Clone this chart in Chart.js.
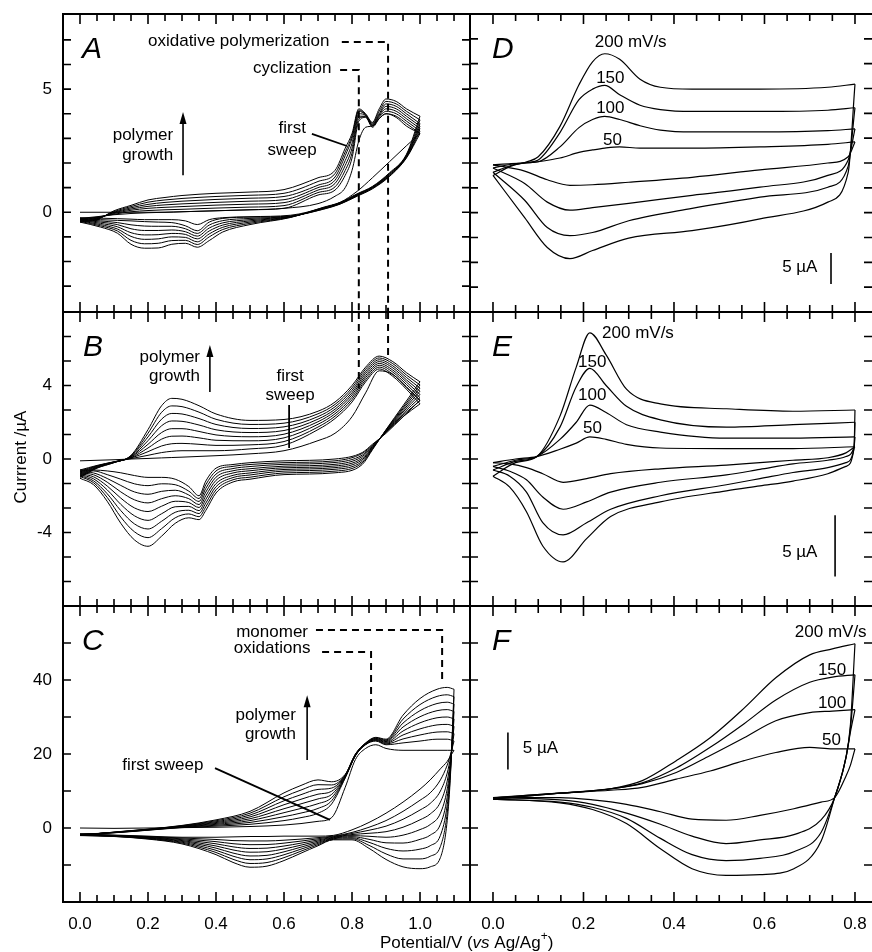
<!DOCTYPE html>
<html>
<head>
<meta charset="utf-8">
<title>Cyclic voltammograms A-F</title>
<script src="https://cdn.jsdelivr.net/npm/chart.js@4.4.1/dist/chart.umd.min.js"></script>
<style>
  html, body { margin: 0; padding: 0; background: #fff; }
  #wrap { position: relative; width: 872px; height: 952px; }
  #wrap canvas { position: absolute; left: 0; top: 0; }
</style>
</head>
<body>
<div id="wrap">
  <canvas id="panel-a" width="872" height="952"></canvas>
  <canvas id="panel-b" width="872" height="952"></canvas>
  <canvas id="panel-c" width="872" height="952"></canvas>
  <canvas id="panel-d" width="872" height="952"></canvas>
  <canvas id="panel-e" width="872" height="952"></canvas>
  <canvas id="panel-f" width="872" height="952"></canvas>
</div>
<script>
'use strict';

// ******* DATA : PANEL A (one row per cycle, first sweep first) *******
const aForwardPotential = [0, 0.05, 0.1, 0.15, 0.2, 0.25, 0.3, 0.4, 0.5, 0.6, 0.7, 0.75, 0.78, 0.8, 0.82, 0.84, 0.86, 0.88, 0.9, 0.93, 0.96, 1.0];
const aForwardCurrent = [
  [0, 0, 0, 0, 0, 0, 0.02, 0.06, 0.1, 0.16, 0.35, 0.65, 1.0, 1.7, 2.9, 3.45, 3.5, 3.8, 4.0, 3.85, 3.5, 3.2],
  [-0.25, -0.18, -0.1, -0.05, -0.02, 0, 0.02, 0.06, 0.1, 0.16, 0.7, 0.9, 1.5, 2.2, 3.7, 3.85, 3.45, 3.8, 4.0, 3.9, 3.6, 3.2],
  [-0.28, -0.2, -0.08, 0.02, 0.07, 0.1, 0.12, 0.17, 0.21, 0.27, 0.8, 1.03, 1.7, 2.4, 3.8, 3.88, 3.5, 3.85, 4.1, 4.0, 3.7, 3.3],
  [-0.3, -0.22, -0.05, 0.08, 0.16, 0.2, 0.23, 0.29, 0.33, 0.39, 0.9, 1.17, 1.9, 2.6, 3.9, 3.9, 3.52, 3.9, 4.2, 4.1, 3.8, 3.4],
  [-0.32, -0.24, -0.02, 0.13, 0.24, 0.3, 0.34, 0.4, 0.45, 0.51, 1.0, 1.3, 2.1, 2.8, 4.0, 3.93, 3.55, 3.95, 4.3, 4.2, 3.9, 3.5],
  [-0.35, -0.26, 0, 0.18, 0.32, 0.4, 0.45, 0.52, 0.57, 0.64, 1.1, 1.43, 2.3, 3.0, 4.1, 3.95, 3.58, 4.0, 4.4, 4.3, 4.0, 3.6],
  [-0.37, -0.28, 0.03, 0.23, 0.41, 0.5, 0.56, 0.64, 0.69, 0.77, 1.25, 1.57, 2.45, 3.1, 4.15, 3.97, 3.62, 4.1, 4.5, 4.4, 4.1, 3.75],
  [-0.4, -0.3, 0.06, 0.28, 0.5, 0.6, 0.68, 0.77, 0.82, 0.92, 1.4, 1.7, 2.6, 3.2, 4.2, 4.0, 3.65, 4.2, 4.6, 4.5, 4.2, 3.9]
];
const aReversePotential = [1.0, 0.96, 0.91, 0.86, 0.815, 0.765, 0.715, 0.62, 0.5, 0.42, 0.38, 0.345, 0.31, 0.27, 0.23, 0.19, 0.15, 0.11, 0.06, 0];
const aReverseCurrent = [
  [3.2, 2.7, 2.05, 1.4, 0.85, 0.4, 0.18, -0.12, -0.18, -0.22, -0.3, -0.5, -0.35, -0.3, -0.3, -0.3, -0.28, -0.26, -0.24, -0.22],
  [3.2, 2.2, 1.45, 0.95, 0.65, 0.33, 0.12, -0.15, -0.2, -0.25, -0.4, -0.75, -0.55, -0.42, -0.4, -0.38, -0.35, -0.33, -0.3, -0.25],
  [3.3, 2.22, 1.47, 0.97, 0.67, 0.34, 0.13, -0.16, -0.25, -0.34, -0.52, -0.86, -0.67, -0.57, -0.57, -0.56, -0.51, -0.42, -0.35, -0.28],
  [3.4, 2.25, 1.5, 0.99, 0.69, 0.35, 0.15, -0.17, -0.3, -0.43, -0.64, -0.97, -0.79, -0.72, -0.74, -0.74, -0.67, -0.5, -0.4, -0.3],
  [3.5, 2.27, 1.52, 1.0, 0.7, 0.36, 0.16, -0.18, -0.35, -0.52, -0.76, -1.08, -0.9, -0.86, -0.91, -0.92, -0.83, -0.59, -0.45, -0.32],
  [3.6, 2.3, 1.55, 1.02, 0.72, 0.38, 0.17, -0.19, -0.4, -0.61, -0.88, -1.2, -1.02, -1.0, -1.08, -1.1, -0.98, -0.68, -0.5, -0.35],
  [3.75, 2.32, 1.57, 1.03, 0.73, 0.39, 0.18, -0.2, -0.45, -0.7, -1.0, -1.31, -1.14, -1.15, -1.26, -1.28, -1.14, -0.76, -0.55, -0.37],
  [3.9, 2.35, 1.6, 1.05, 0.75, 0.4, 0.2, -0.21, -0.5, -0.8, -1.15, -1.42, -1.26, -1.3, -1.45, -1.46, -1.3, -0.85, -0.6, -0.4]
];

// ******* DATA : PANEL B *******
const bForwardPotential = [0, 0.05, 0.1, 0.15, 0.2, 0.24, 0.27, 0.3, 0.35, 0.4, 0.5, 0.6, 0.7, 0.75, 0.8, 0.84, 0.88, 0.92, 0.96, 1.0];
const bForwardCurrent = [
  [-0.1, -0.07, -0.04, 0, 0.03, 0.06, 0.08, 0.1, 0.14, 0.18, 0.28, 0.45, 1.0, 1.4, 2.3, 3.6, 4.8, 4.6, 3.9, 3.2],
  [-0.6, -0.35, -0.15, 0.02, 0.2, 0.35, 0.42, 0.45, 0.45, 0.45, 0.55, 0.75, 1.6, 2.2, 3.1, 4.2, 4.9, 4.5, 3.8, 3.0],
  [-0.66, -0.37, -0.16, 0.05, 0.4, 0.71, 0.83, 0.85, 0.8, 0.74, 0.77, 0.95, 1.74, 2.33, 3.23, 4.31, 5.0, 4.61, 3.93, 3.17],
  [-0.71, -0.39, -0.16, 0.07, 0.6, 1.08, 1.24, 1.25, 1.15, 1.02, 0.99, 1.15, 1.89, 2.46, 3.36, 4.43, 5.1, 4.73, 4.06, 3.34],
  [-0.77, -0.41, -0.17, 0.1, 0.8, 1.44, 1.65, 1.65, 1.5, 1.31, 1.21, 1.35, 2.03, 2.59, 3.49, 4.54, 5.2, 4.84, 4.19, 3.51],
  [-0.83, -0.44, -0.18, 0.12, 1.0, 1.81, 2.07, 2.05, 1.85, 1.59, 1.44, 1.55, 2.17, 2.71, 3.61, 4.66, 5.3, 4.96, 4.31, 3.69],
  [-0.89, -0.46, -0.19, 0.15, 1.2, 2.17, 2.48, 2.45, 2.2, 1.88, 1.66, 1.75, 2.31, 2.84, 3.74, 4.77, 5.4, 5.07, 4.44, 3.86],
  [-0.94, -0.48, -0.19, 0.17, 1.4, 2.54, 2.89, 2.85, 2.55, 2.16, 1.88, 1.95, 2.46, 2.97, 3.87, 4.89, 5.5, 5.19, 4.57, 4.03],
  [-1.0, -0.5, -0.2, 0.2, 1.6, 2.9, 3.3, 3.25, 2.9, 2.45, 2.1, 2.15, 2.6, 3.1, 4.0, 5.0, 5.6, 5.3, 4.7, 4.2]
];
const bReversePotential = [1.0, 0.95, 0.9, 0.86, 0.83, 0.75, 0.6, 0.5, 0.45, 0.4, 0.37, 0.35, 0.32, 0.28, 0.24, 0.2, 0.16, 0.12, 0.08, 0.04, 0];
const bReverseCurrent = [
  [3.2, 2.3, 1.4, 0.8, 0.35, 0, -0.1, -0.2, -0.3, -0.5, -1.2, -2.0, -1.5, -1.1, -1.0, -1.0, -0.9, -0.75, -0.65, -0.6, -0.6],
  [3.0, 2.3, 1.45, 0.75, 0.3, -0.1, -0.2, -0.3, -0.4, -0.65, -1.4, -2.15, -1.75, -1.4, -1.35, -1.45, -1.35, -1.1, -0.85, -0.65, -0.65],
  [3.17, 2.39, 1.47, 0.71, 0.21, -0.19, -0.29, -0.41, -0.52, -0.82, -1.6, -2.31, -1.96, -1.7, -1.76, -1.92, -1.79, -1.44, -1.06, -0.76, -0.7],
  [3.34, 2.47, 1.49, 0.68, 0.13, -0.29, -0.39, -0.53, -0.64, -0.99, -1.8, -2.48, -2.16, -2.0, -2.16, -2.39, -2.22, -1.79, -1.26, -0.86, -0.75],
  [3.51, 2.56, 1.51, 0.64, 0.04, -0.38, -0.48, -0.64, -0.76, -1.16, -2.0, -2.64, -2.37, -2.3, -2.57, -2.86, -2.66, -2.13, -1.47, -0.97, -0.8],
  [3.69, 2.64, 1.54, 0.61, -0.04, -0.47, -0.57, -0.76, -0.89, -1.34, -2.2, -2.81, -2.58, -2.6, -2.98, -3.34, -3.09, -2.47, -1.68, -1.08, -0.85],
  [3.86, 2.73, 1.56, 0.57, -0.13, -0.56, -0.66, -0.87, -1.01, -1.51, -2.4, -2.97, -2.79, -2.9, -3.39, -3.81, -3.53, -2.81, -1.89, -1.19, -0.9],
  [4.03, 2.81, 1.58, 0.54, -0.21, -0.66, -0.76, -0.99, -1.13, -1.68, -2.6, -3.14, -2.99, -3.2, -3.79, -4.28, -3.96, -3.16, -2.09, -1.29, -0.95],
  [4.2, 2.9, 1.6, 0.5, -0.3, -0.75, -0.85, -1.1, -1.25, -1.85, -2.8, -3.3, -3.2, -3.5, -4.2, -4.75, -4.4, -3.5, -2.3, -1.4, -1.05]
];

// ******* DATA : PANEL C *******
const cForwardPotential = [0, 0.1, 0.2, 0.3, 0.4, 0.5, 0.6, 0.65, 0.7, 0.74, 0.78, 0.81, 0.84, 0.87, 0.9, 0.95, 1.0, 1.05, 1.08, 1.1];
const cForwardCurrent = [
  [0, -0.1, 0, 0.1, 0.2, 0.4, 0.8, 1.2, 1.8, 2.8, 11, 18.5, 21.5, 22.5, 21.5, 21, 21, 21, 21, 21],
  [-1.6, -1.3, -0.6, 0.1, 0.5, 1.0, 2.0, 2.8, 4.0, 6.5, 13.5, 19.5, 22.5, 23.5, 22.5, 23, 23.5, 24, 24, 23.5],
  [-1.7, -1.27, -0.56, 0.19, 0.74, 1.5, 3.07, 4.04, 5.29, 7.36, 13.64, 19.57, 22.57, 23.64, 22.71, 24.07, 25.14, 25.93, 26, 25.5],
  [-1.75, -1.24, -0.51, 0.27, 0.99, 2.0, 4.14, 5.29, 6.57, 8.21, 13.79, 19.64, 22.64, 23.79, 22.93, 25.14, 26.79, 27.86, 28, 27.5],
  [-1.8, -1.21, -0.47, 0.36, 1.23, 2.5, 5.21, 6.53, 7.86, 9.07, 13.93, 19.71, 22.71, 23.93, 23.14, 26.21, 28.43, 29.79, 30, 29.5],
  [-1.85, -1.19, -0.43, 0.44, 1.47, 3.0, 6.29, 7.77, 9.14, 9.93, 14.07, 19.79, 22.79, 24.07, 23.36, 27.29, 30.07, 31.71, 32, 31.5],
  [-1.9, -1.16, -0.39, 0.53, 1.71, 3.5, 7.36, 9.01, 10.43, 10.79, 14.21, 19.86, 22.86, 24.21, 23.57, 28.36, 31.71, 33.64, 34, 33.5],
  [-1.95, -1.13, -0.34, 0.61, 1.96, 4.0, 8.43, 10.26, 11.71, 11.64, 14.36, 19.93, 22.93, 24.36, 23.79, 29.43, 33.36, 35.57, 36, 35.5],
  [-2.0, -1.1, -0.3, 0.7, 2.2, 4.5, 9.5, 11.5, 13, 12.5, 14.5, 20, 23, 24.5, 24, 30.5, 35, 37.5, 38, 37.5]
];
const cReversePotential = [1.1, 1.09, 1.08, 1.06, 1.03, 1.0, 0.95, 0.9, 0.85, 0.8, 0.745, 0.7, 0.65, 0.6, 0.55, 0.5, 0.45, 0.4, 0.3, 0.2, 0.1, 0];
const cReverseCurrent = [
  [21, 19.5, 18, 16, 13, 10.5, 7, 4, 1.5, -0.5, -2.0, -2.2, -2.2, -2.2, -2.3, -2.3, -2.4, -2.5, -2.5, -2.2, -1.9, -1.6],
  [23.5, 20, 17, 13, 9.5, 7.5, 4.5, 2.0, 0.2, -1.2, -2.2, -2.6, -3.0, -3.3, -3.5, -3.5, -3.4, -3.1, -2.7, -2.3, -2.0, -1.7],
  [25.5, 19.29, 14.86, 10, 6.64, 4.86, 2.36, 0.5, -0.61, -1.49, -2.34, -2.91, -3.54, -4.09, -4.47, -4.51, -4.24, -3.69, -2.93, -2.4, -2.04, -1.75],
  [27.5, 18.57, 12.71, 7, 3.79, 2.21, 0.21, -1.0, -1.43, -1.77, -2.49, -3.23, -4.09, -4.87, -5.44, -5.53, -5.09, -4.27, -3.16, -2.5, -2.09, -1.8],
  [29.5, 17.86, 10.57, 4, 0.93, -0.43, -1.93, -2.5, -2.24, -2.06, -2.63, -3.54, -4.63, -5.66, -6.41, -6.54, -5.93, -4.86, -3.39, -2.6, -2.13, -1.85],
  [31.5, 17.14, 8.43, 1, -1.93, -3.07, -4.07, -4.0, -3.06, -2.34, -2.77, -3.86, -5.17, -6.44, -7.39, -7.56, -6.77, -5.44, -3.61, -2.7, -2.17, -1.9],
  [33.5, 16.43, 6.29, -2, -4.79, -5.71, -6.21, -5.5, -3.87, -2.63, -2.91, -4.17, -5.71, -7.23, -8.36, -8.57, -7.61, -6.03, -3.84, -2.8, -2.21, -1.95],
  [35.5, 15.71, 4.14, -5, -7.64, -8.36, -8.36, -7.0, -4.69, -2.91, -3.06, -4.49, -6.26, -8.01, -9.33, -9.59, -8.46, -6.61, -4.07, -2.9, -2.26, -2.0],
  [37.5, 15, 2, -8, -10.5, -11, -10.5, -8.5, -5.5, -3.2, -3.2, -4.8, -6.8, -8.8, -10.3, -10.6, -9.3, -7.2, -4.3, -3.0, -2.3, -2.05]
];

// ******* DATA : PANELS D, E, F (rows follow scanRates) *******
const scanRates = [50, 100, 150, 200];

const dForwardPotential = [0, 0.04, 0.075, 0.1, 0.148, 0.19, 0.22, 0.247, 0.28, 0.325, 0.37, 0.44, 0.59, 0.74, 0.8];
const dForwardCurrent = [
  [-0.3, -0.1, 0, 0.2, 0.8, 1.7, 2.1, 2.4, 2.6, 2.4, 2.4, 2.4, 2.6, 3.0, 3.4],
  [-0.8, -0.2, 0.05, 0.2, 2.6, 5.7, 7.0, 7.5, 7.0, 6.0, 5.3, 5.0, 5.0, 5.2, 5.5],
  [-1.5, -0.4, 0.1, 0.5, 4.9, 10.2, 11.9, 12.5, 11.0, 9.3, 8.6, 8.3, 8.3, 8.5, 8.9],
  [-2.0, -0.5, 0.2, 1.0, 5.9, 12.6, 16.3, 17.6, 16.7, 13.5, 12.2, 11.9, 11.9, 12.2, 12.7]
];
const dReversePotential = [0.8, 0.785, 0.74, 0.59, 0.44, 0.3, 0.22, 0.17, 0.12, 0.07, 0];
const dReverseCurrent = [
  [3.4, 1.0, 0, -1.1, -2.3, -3.1, -3.5, -3.6, -2.7, -1.3, -0.3],
  [5.5, 0.5, -2.0, -3.9, -5.2, -6.5, -7.2, -7.6, -6.3, -3.3, -0.8],
  [8.9, -0.5, -3.9, -5.5, -7.3, -9.3, -11.2, -11.7, -10.4, -6.0, -1.5],
  [12.7, -1.5, -6.3, -9.0, -10.9, -12.1, -14.1, -15.4, -13.6, -8.8, -2.0]
];

const eForwardPotential = [0, 0.05, 0.097, 0.148, 0.184, 0.214, 0.25, 0.295, 0.37, 0.516, 0.663, 0.8];
const eForwardCurrent = [
  [-0.3, 0, 0.2, 0.8, 1.3, 1.8, 1.6, 1.2, 0.9, 0.85, 0.85, 1.0],
  [-0.6, -0.1, 0.2, 1.6, 3.0, 4.4, 3.8, 2.8, 2.2, 1.7, 1.7, 1.8],
  [-0.9, -0.2, 0.2, 2.6, 5.9, 7.4, 6.0, 4.3, 3.2, 2.6, 2.8, 3.0],
  [-1.4, -0.3, 0.2, 3.5, 7.5, 10.3, 8.5, 5.7, 4.5, 4.1, 3.9, 4.0]
];
const eReversePotential = [0.8, 0.798, 0.78, 0.74, 0.663, 0.59, 0.516, 0.37, 0.26, 0.207, 0.155, 0.11, 0.074, 0.037, 0];
const eReverseCurrent = [
  [1.0, 0.95, 0.5, 0.1, -0.1, -0.3, -0.5, -0.8, -1.2, -1.6, -1.9, -1.2, -0.7, -0.4, -0.3],
  [1.8, 1.0, 0.2, -0.1, -0.4, -0.85, -1.3, -1.9, -2.7, -3.5, -4.1, -3.1, -1.7, -1.0, -0.6],
  [3.0, 0.9, -0.3, -0.7, -1.1, -1.6, -2.1, -3.0, -4.1, -5.2, -6.2, -5.2, -2.7, -1.4, -0.9],
  [4.0, 0.9, -0.6, -1.2, -1.8, -2.2, -2.6, -3.5, -4.7, -6.5, -8.4, -7.1, -4.3, -2.3, -1.4]
];

const fForwardPotential = [0, 0.148, 0.26, 0.33, 0.405, 0.48, 0.555, 0.625, 0.7, 0.75, 0.8];
const fForwardCurrent = [
  [-0.9, -0.3, 0.1, 0.5, 1.6, 2.7, 4.1, 5.2, 5.9, 5.7, 5.7],
  [-0.9, -0.3, 0.3, 1.0, 2.5, 4.8, 7.2, 9.5, 10.6, 10.8, 11.0],
  [-1.1, -0.3, 0.3, 1.1, 3.1, 5.9, 9.1, 12.3, 14.7, 15.4, 15.7],
  [-1.1, -0.3, 0.3, 1.4, 4.1, 7.2, 11.2, 15.3, 18.4, 19.2, 19.9]
];
const fReversePotential = [0.8, 0.79, 0.78, 0.755, 0.725, 0.665, 0.59, 0.515, 0.44, 0.37, 0.295, 0.22, 0.148, 0];
const fReverseCurrent = [
  [5.7, 3.5, 2.0, -0.9, -1.5, -2.4, -3.3, -3.95, -3.8, -2.8, -1.8, -1.2, -0.9, -0.9],
  [11.0, 8.0, 4.5, -0.9, -3.9, -5.9, -6.6, -7.1, -6.1, -4.5, -3.0, -1.8, -1.2, -0.9],
  [15.7, 8.5, 4.5, -0.9, -5.6, -8.2, -9.1, -9.4, -8.6, -6.4, -3.7, -2.2, -1.5, -1.1],
  [19.9, 9.0, 4.5, -0.9, -6.8, -10.5, -11.3, -11.4, -10.5, -7.8, -4.4, -2.5, -1.6, -1.1]
];

// ******* TICKS *******
const leftPotentialTicks = [0, 0.05, 0.1, 0.15, 0.2, 0.25, 0.3, 0.35, 0.4, 0.45, 0.5, 0.55, 0.6, 0.65, 0.7, 0.75, 0.8, 0.85, 0.9, 0.95, 1.0, 1.05, 1.1];
const leftPotentialLabels = [0, 0.2, 0.4, 0.6, 0.8, 1.0];
const rightPotentialTicks = [0, 0.05, 0.1, 0.15, 0.2, 0.25, 0.3, 0.35, 0.4, 0.45, 0.5, 0.55, 0.6, 0.65, 0.7, 0.75, 0.8];
const rightPotentialLabels = [0, 0.2, 0.4, 0.6, 0.8];
const aCurrentTicks = [-3, -2, -1, 0, 1, 2, 3, 4, 5, 6, 7];
const aCurrentLabels = [0, 5];
const bCurrentTicks = [-6.667, -5.333, -4, -2.667, -1.333, 0, 1.333, 2.667, 4, 5.333, 6.667];
const bCurrentLabels = [-4, 0, 4];
const cCurrentTicks = [-10, 0, 10, 20, 30, 40, 50];
const cCurrentLabels = [0, 20, 40];
const dCurrentTicks = [-20, -16, -12, -8, -4, 0, 4, 8, 12, 16, 20];
const eCurrentTicks = [-10, -8, -6, -4, -2, 0, 2, 4, 6, 8, 10];
const fCurrentTicks = [-10, -5, 0, 5, 10, 15, 20];

// ******* LOOK *******
const FONT = "'Liberation Sans', Arial, Helvetica, sans-serif";
const PAGE_W = 872;
const PAGE_H = 952;

// ******* HELPERS *******
function sweepSet(potential, current, width) {
  let pts = [];
  for (let i = 0; i < potential.length; i++) {
    pts.push({ x: potential[i], y: current[i] });
  }
  return {
    data: pts,
    showLine: true,
    borderColor: '#000',
    borderWidth: width,
    pointRadius: 0,
    fill: false,
    cubicInterpolationMode: 'monotone'
  };
}

function cycleSets(fwdPot, fwdRows, revPot, revRows, width) {
  let sets = [];
  for (let i = 0; i < fwdRows.length; i++) {
    sets.push(sweepSet(fwdPot, fwdRows[i], width));
    sets.push(sweepSet(revPot, revRows[i], width));
  }
  return sets;
}

function isMajor(v) {
  return Math.abs(v * 5 - Math.round(v * 5)) < 1e-6;
}

function rateText(rate) {
  return rate === 200 ? '200 mV/s' : String(rate);
}

// ******* DRAWING PLUGIN *******
function drawPanel(chart, p) {
  let ctx = chart.ctx;
  let xs = chart.scales.x;
  let ys = chart.scales.y;
  let a = chart.chartArea;
  let X = v => xs.getPixelForValue(v);
  let Y = v => ys.getPixelForValue(v);

  ctx.save();
  ctx.strokeStyle = '#000';
  ctx.fillStyle = '#000';
  ctx.lineCap = 'butt';

  // frame
  ctx.lineWidth = 2;
  ctx.beginPath();
  ctx.moveTo(a.right, a.top);
  ctx.lineTo(a.left, a.top);
  ctx.lineTo(a.left, a.bottom);
  ctx.lineTo(a.right, a.bottom);
  if (p.rightBorder) {
    ctx.moveTo(a.right, a.top);
    ctx.lineTo(a.right, a.bottom);
  }
  ctx.stroke();

  // inner ticks on all four sides
  ctx.lineWidth = 1.6;
  ctx.beginPath();
  p.xTicks.forEach(v => {
    let px = X(v);
    let len = isMajor(v) ? 10 : 7;
    ctx.moveTo(px, a.top);
    ctx.lineTo(px, a.top + len);
    ctx.moveTo(px, a.bottom);
    ctx.lineTo(px, a.bottom - len);
  });
  p.yTicks.forEach(v => {
    let py = Y(v);
    ctx.moveTo(a.left, py);
    ctx.lineTo(a.left + 8, py);
    ctx.moveTo(a.right, py);
    ctx.lineTo(a.right - 8, py);
  });
  ctx.stroke();

  // y tick labels
  ctx.font = '17px ' + FONT;
  if (p.yLabels) {
    ctx.textAlign = 'right';
    ctx.textBaseline = 'middle';
    p.yLabels.forEach(v => ctx.fillText(String(v), a.left - 11, Y(v)));
  }
  // x tick labels
  if (p.xLabels) {
    ctx.textAlign = 'center';
    ctx.textBaseline = 'alphabetic';
    p.xLabels.forEach(v => ctx.fillText(v.toFixed(1), X(v), 929));
  }

  // panel letter
  ctx.font = 'italic 30px ' + FONT;
  ctx.textAlign = 'left';
  ctx.textBaseline = 'alphabetic';
  ctx.fillText(p.letter, a.left + p.letterDx, a.top + 44);

  // dashed guide lines
  ctx.lineWidth = 2;
  ctx.setLineDash([7, 5]);
  (p.dashes || []).forEach(path => {
    ctx.beginPath();
    path.forEach((pt, i) => {
      if (i === 0) ctx.moveTo(X(pt[0]), Y(pt[1]));
      else ctx.lineTo(X(pt[0]), Y(pt[1]));
    });
    ctx.stroke();
  });
  ctx.setLineDash([]);

  // pointer lines
  ctx.lineWidth = 1.8;
  (p.pointers || []).forEach(seg => {
    ctx.beginPath();
    ctx.moveTo(X(seg[0][0]), Y(seg[0][1]));
    ctx.lineTo(X(seg[1][0]), Y(seg[1][1]));
    ctx.stroke();
  });

  // growth arrows
  (p.arrows || []).forEach(ar => {
    let x = X(ar.x);
    let y0 = Y(ar.from);
    let y1 = Y(ar.to);
    ctx.lineWidth = 1.6;
    ctx.beginPath();
    ctx.moveTo(x, y0);
    ctx.lineTo(x, y1 + 8);
    ctx.stroke();
    ctx.beginPath();
    ctx.moveTo(x, y1);
    ctx.lineTo(x - 3.5, y1 + 12);
    ctx.lineTo(x + 3.5, y1 + 12);
    ctx.closePath();
    ctx.fill();
  });

  // 5 uA scale bars
  ctx.lineWidth = 1.6;
  (p.bars || []).forEach(b => {
    ctx.beginPath();
    ctx.moveTo(X(b.x), Y(b.from));
    ctx.lineTo(X(b.x), Y(b.to));
    ctx.stroke();
  });

  // texts
  ctx.font = '17px ' + FONT;
  ctx.textBaseline = 'alphabetic';
  (p.texts || []).forEach(t => {
    ctx.textAlign = t.align || 'left';
    ctx.fillText(t.text, X(t.x), Y(t.y));
  });

  if (p.extra) p.extra(ctx);
  ctx.restore();
}

function drawYTitle(ctx) {
  ctx.save();
  ctx.translate(21, 457);
  ctx.rotate(-Math.PI / 2);
  ctx.font = '17px ' + FONT;
  ctx.textAlign = 'center';
  ctx.textBaseline = 'middle';
  ctx.fillText('Currrent /\u00b5A', 0, 0);
  ctx.restore();
}

function drawXTitle(ctx) {
  let x = 380;
  let y = 948;
  let parts = [
    { t: 'Potential/V (', f: '17px ' + FONT, dy: 0 },
    { t: 'vs', f: 'italic 17px ' + FONT, dy: 0 },
    { t: ' Ag/Ag', f: '17px ' + FONT, dy: 0 },
    { t: '+', f: '12px ' + FONT, dy: -8 },
    { t: ')', f: '17px ' + FONT, dy: 0 }
  ];
  ctx.save();
  ctx.textAlign = 'left';
  ctx.textBaseline = 'alphabetic';
  parts.forEach(pt => {
    ctx.font = pt.f;
    ctx.fillText(pt.t, x, y + pt.dy);
    x += ctx.measureText(pt.t).width;
  });
  ctx.restore();
}

function rateTexts(positions) {
  let out = [];
  for (let i = 0; i < scanRates.length; i++) {
    out.push({ text: rateText(scanRates[i]), x: positions[i][0], y: positions[i][1], align: 'left' });
  }
  return out;
}

// ******* PANELS *******
let panels = [
  {
    id: 'panel-a', letter: 'A', letterDx: 19, frame: [63, 14, 470, 312],
    xRange: [-0.05, 1.147], yRange: [-4.05, 8.05],
    sets: cycleSets(aForwardPotential, aForwardCurrent, aReversePotential, aReverseCurrent, 1),
    xTicks: leftPotentialTicks, yTicks: aCurrentTicks, yLabels: aCurrentLabels, rightBorder: true,
    texts: [
      { text: 'oxidative polymerization', x: 0.2, y: 6.75 },
      { text: 'cyclization', x: 0.509, y: 5.65 },
      { text: 'polymer', x: 0.274, y: 2.94, align: 'right' },
      { text: 'growth', x: 0.274, y: 2.13, align: 'right' },
      { text: 'first', x: 0.624, y: 3.22, align: 'center' },
      { text: 'sweep', x: 0.624, y: 2.33, align: 'center' }
    ],
    dashes: [
      [[0.77, 6.91], [0.906, 6.91], [0.906, -4.05]],
      [[0.765, 5.78], [0.82, 5.78], [0.82, -4.05]]
    ],
    arrows: [{ x: 0.303, from: 1.5, to: 4.07 }],
    pointers: [[[0.682, 3.18], [0.785, 2.69]]]
  },
  {
    id: 'panel-b', letter: 'B', letterDx: 20, frame: [63, 312, 470, 606],
    xRange: [-0.05, 1.147], yRange: [-8, 8],
    sets: cycleSets(bForwardPotential, bForwardCurrent, bReversePotential, bReverseCurrent, 1),
    xTicks: leftPotentialTicks, yTicks: bCurrentTicks, yLabels: bCurrentLabels, rightBorder: true,
    texts: [
      { text: 'polymer', x: 0.353, y: 5.28, align: 'right' },
      { text: 'growth', x: 0.353, y: 4.24, align: 'right' },
      { text: 'first', x: 0.618, y: 4.24, align: 'center' },
      { text: 'sweep', x: 0.618, y: 3.21, align: 'center' }
    ],
    dashes: [
      [[0.82, 8], [0.82, 3.84]],
      [[0.906, 8], [0.906, 5.6]]
    ],
    arrows: [{ x: 0.382, from: 3.65, to: 6.2 }],
    pointers: [[[0.615, 2.94], [0.615, 0.6]]],
    extra: drawYTitle
  },
  {
    id: 'panel-c', letter: 'C', letterDx: 19, frame: [63, 606, 470, 902],
    xRange: [-0.05, 1.147], yRange: [-20, 60],
    sets: cycleSets(cForwardPotential, cForwardCurrent, cReversePotential, cReverseCurrent, 1),
    xTicks: leftPotentialTicks, yTicks: cCurrentTicks, yLabels: cCurrentLabels,
    xLabels: leftPotentialLabels, rightBorder: true,
    texts: [
      { text: 'monomer', x: 0.565, y: 51.6, align: 'center' },
      { text: 'oxidations', x: 0.565, y: 47.3, align: 'center' },
      { text: 'polymer', x: 0.635, y: 29.2, align: 'right' },
      { text: 'growth', x: 0.635, y: 24.1, align: 'right' },
      { text: 'first sweep', x: 0.124, y: 15.7 }
    ],
    dashes: [
      [[0.694, 53.5], [1.065, 53.5], [1.065, 39.5]],
      [[0.712, 47.6], [0.856, 47.6], [0.856, 28.4]]
    ],
    arrows: [{ x: 0.668, from: 18.4, to: 35.9 }],
    pointers: [[[0.397, 16.2], [0.735, 2.2]]],
    extra: drawXTitle
  },
  {
    id: 'panel-d', letter: 'D', letterDx: 22, frame: [470, 14, 872, 312],
    xRange: [-0.0508, 0.8376], yRange: [-24, 24],
    sets: cycleSets(dForwardPotential, dForwardCurrent, dReversePotential, dReverseCurrent, 1.2),
    xTicks: rightPotentialTicks, yTicks: dCurrentTicks,
    texts: rateTexts([[0.243, 2.9], [0.228, 8.05], [0.228, 12.9], [0.225, 18.7]])
      .concat([{ text: '5 \u00b5A', x: 0.639, y: -17.6 }]),
    bars: [{ x: 0.747, from: -19.5, to: -14.5 }]
  },
  {
    id: 'panel-e', letter: 'E', letterDx: 22, frame: [470, 312, 872, 606],
    xRange: [-0.0508, 0.8376], yRange: [-12, 12],
    sets: cycleSets(eForwardPotential, eForwardCurrent, eReversePotential, eReverseCurrent, 1.2),
    xTicks: rightPotentialTicks, yTicks: eCurrentTicks,
    texts: rateTexts([[0.199, 2.1], [0.188, 4.8], [0.188, 7.5], [0.241, 9.9]])
      .concat([{ text: '5 \u00b5A', x: 0.639, y: -8.0 }]),
    bars: [{ x: 0.756, from: -9.6, to: -4.6 }]
  },
  {
    id: 'panel-f', letter: 'F', letterDx: 22, frame: [470, 606, 872, 902],
    xRange: [-0.0508, 0.8376], yRange: [-15, 25],
    sets: cycleSets(fForwardPotential, fForwardCurrent, fReversePotential, fReverseCurrent, 1.2),
    xTicks: rightPotentialTicks, yTicks: fCurrentTicks, xLabels: rightPotentialLabels,
    texts: rateTexts([[0.727, 6.2], [0.718, 11.2], [0.718, 15.7], [0.667, 20.8]])
      .concat([{ text: '5 \u00b5A', x: 0.066, y: 5.1 }]),
    bars: [{ x: 0.033, from: 2.9, to: 7.9 }]
  }
];

// ******* EXECUTABLE CODE *******
panels.forEach(p => {
  let canvasElem = document.getElementById(p.id).getContext('2d');
  new Chart(canvasElem, {
    type: 'scatter',
    data: { datasets: p.sets },
    options: {
      responsive: false,
      maintainAspectRatio: false,
      animation: false,
      events: [],
      layout: {
        padding: {
          left: p.frame[0],
          top: p.frame[1],
          right: PAGE_W - p.frame[2],
          bottom: PAGE_H - p.frame[3]
        }
      },
      plugins: {
        legend: { display: false },
        tooltip: { enabled: false }
      },
      scales: {
        x: { type: 'linear', display: false, min: p.xRange[0], max: p.xRange[1] },
        y: { type: 'linear', display: false, min: p.yRange[0], max: p.yRange[1] }
      }
    },
    plugins: [{
      id: 'panelDecor',
      afterDatasetsDraw(chart) {
        drawPanel(chart, p);
      }
    }]
  });
});
</script>
</body>
</html>
